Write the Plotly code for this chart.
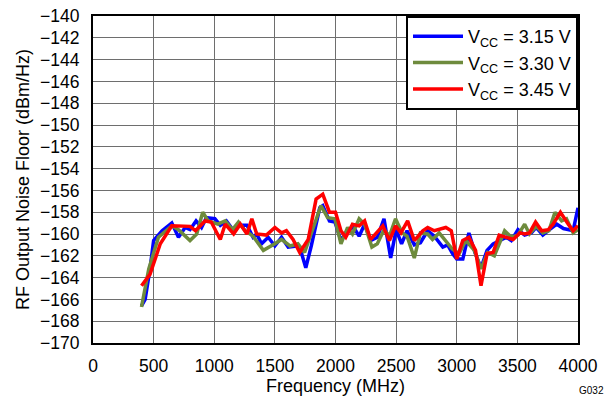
import plotly.graph_objects as go

# Vcc = 3.15 V
freq_315 = [400, 430, 470, 500, 570, 650, 705, 760, 800, 850, 895, 935, 1005, 1050, 1100, 1160, 1200, 1270,
            1320, 1350, 1390, 1445, 1500, 1555, 1610, 1680, 1705, 1755, 1800, 1870, 1895, 1950, 1995, 2045,
            2100, 2150, 2195, 2240, 2290, 2345, 2400, 2455, 2500, 2545, 2590, 2650, 2700, 2760, 2815, 2885,
            2925, 2965, 3000, 3050, 3100, 3150, 3200, 3250, 3300, 3350, 3410, 3450, 3505, 3560, 3615, 3655,
            3710, 3765, 3825, 3880, 3960, 4000]
nf_315 = [-166.6, -166.0, -163.2, -160.6, -159.7, -159.0, -160.3, -159.4, -159.6, -158.8, -159.4, -158.5,
          -158.6, -159.2, -158.8, -159.7, -159.2, -159.2, -160.3, -160.0, -160.9, -160.3, -161.1, -160.3,
          -161.2, -161.1, -161.2, -163.1, -161.1, -157.6, -157.4, -158.8, -158.9, -160.6, -159.6, -159.4,
          -160.2, -159.1, -160.6, -160.3, -158.6, -162.2, -159.6, -160.9, -159.7, -161.0, -160.8, -159.7,
          -160.2, -161.2, -161.0, -161.8, -162.3, -162.3, -159.9, -161.7, -163.1, -161.5, -160.9, -160.6,
          -160.3, -160.6, -159.6, -160.1, -159.9, -159.4, -160.1, -159.6, -159.1, -159.5, -159.7, -157.6]

# Vcc = 3.30 V
freq_330 = [400, 460, 540, 650, 705, 800, 855, 905, 950, 1030, 1090, 1150, 1200, 1255, 1320, 1380, 1405,
            1500, 1555, 1625, 1690, 1745, 1800, 1880, 1935, 1995, 2045, 2100, 2140, 2195, 2240, 2300, 2345,
            2400, 2445, 2495, 2550, 2590, 2650, 2700, 2760, 2800, 2855, 2910, 2965, 3020, 3075, 3145, 3200,
            3255, 3310, 3395, 3450, 3505, 3560, 3600, 3655, 3710, 3760, 3810, 3865, 3905, 3960, 4000]
nf_330 = [-166.7, -163.2, -160.3, -159.25, -159.6, -160.6, -160.0, -158.0, -158.8, -159.1, -158.8, -159.6,
          -158.9, -159.7, -160.2, -161.1, -161.5, -160.9, -160.5, -161.1, -160.9, -161.7, -160.0, -157.4,
          -158.5, -158.6, -160.9, -159.4, -160.0, -158.6, -159.1, -161.2, -160.9, -159.6, -160.2, -158.6,
          -159.9, -160.2, -162.2, -159.9, -160.0, -160.5, -159.9, -160.6, -161.4, -161.8, -160.6, -161.5,
          -163.2, -161.7, -162.0, -159.7, -160.3, -160.1, -159.1, -160.0, -159.3, -159.9, -159.7, -158.0,
          -158.8, -158.6, -159.9, -159.6]

# Vcc = 3.45 V
freq_345 = [400, 470, 555, 650, 800, 845, 925, 975, 1050, 1090, 1160, 1215, 1270, 1310, 1350, 1430, 1500,
            1555, 1595, 1650, 1705, 1775, 1840, 1895, 1950, 2000, 2045, 2085, 2140, 2195, 2240, 2290, 2390,
            2445, 2495, 2540, 2595, 2650, 2720, 2760, 2815, 2910, 2955, 3000, 3050, 3100, 3155, 3200, 3250,
            3300, 3350, 3410, 3465, 3520, 3560, 3600, 3650, 3700, 3755, 3795, 3855, 3920, 3960, 4000]
nf_345 = [-164.75, -163.7, -160.9, -159.25, -159.3, -159.7, -158.8, -158.9, -160.5, -159.1, -160.0, -159.1,
          -160.0, -158.6, -160.0, -160.1, -159.4, -159.9, -159.7, -160.5, -161.7, -160.5, -156.8, -156.35,
          -158.0, -158.0, -159.7, -160.3, -159.1, -159.25, -158.8, -160.5, -159.25, -160.6, -159.25, -159.9,
          -158.8, -160.6, -159.7, -159.4, -159.7, -159.4, -159.7, -162.3, -160.6, -160.3, -161.5, -164.75,
          -161.8, -161.7, -160.1, -160.3, -160.5, -159.9, -160.0, -159.9, -158.9, -159.7, -159.6, -159.1,
          -158.0, -159.1, -159.7, -159.25]

series = [
    ("V<sub>CC</sub> = 3.15 V", freq_315, nf_315, "#0000FF"),
    ("V<sub>CC</sub> = 3.30 V", freq_330, nf_330, "#6E8B3D"),
    ("V<sub>CC</sub> = 3.45 V", freq_345, nf_345, "#FF0000"),
]

FONT = "Liberation Sans, Arial, sans-serif"

fig = go.Figure()
for name, x, y, c in series:
    fig.add_trace(go.Scatter(x=x, y=y, mode="lines", name=name,
                             line=dict(color=c, width=3.5)))

fig.update_layout(
    template="none",
    width=611, height=397,
    margin=dict(l=93, r=33, t=16, b=54, autoexpand=False),
    paper_bgcolor="white", plot_bgcolor="white",
    font=dict(family=FONT, size=17, color="black"),
    showlegend=True,
    legend=dict(x=1, y=1, xanchor="right", yanchor="top",
                bgcolor="white", bordercolor="black", borderwidth=2,
                font=dict(family=FONT, size=18, color="black"),
                tracegroupgap=0, itemwidth=50),
)
fig.update_xaxes(range=[0, 4000], dtick=500, tick0=0, automargin=False,
                 showgrid=True, gridcolor="#6e6e6e", gridwidth=1,
                 showline=True, linecolor="black", linewidth=2, mirror=True,
                 ticks="", zeroline=False, ticklabelstandoff=6,
                 title=dict(text="Frequency (MHz)", standoff=2, font=dict(size=18)),
                 tickfont=dict(size=17.5))
fig.update_yaxes(range=[-170, -140], dtick=2, tick0=-170, automargin=False,
                 showgrid=True, gridcolor="#6e6e6e", gridwidth=1,
                 showline=True, linecolor="black", linewidth=2, mirror=True,
                 ticks="", zeroline=False, ticklabelstandoff=8,
                 title=dict(text="RF Output Noise Floor (dBm/Hz)", standoff=6, font=dict(size=18)),
                 tickfont=dict(size=17.5))

fig.add_annotation(text="G032", x=1, y=0, xref="paper", yref="paper",
                   xanchor="center", yanchor="middle", xshift=13, yshift=-47,
                   showarrow=False, font=dict(family=FONT, size=10, color="black"))

fig.write_html("out.html", config={"displayModeBar": False},
               post_script="document.body.style.margin='0';")
